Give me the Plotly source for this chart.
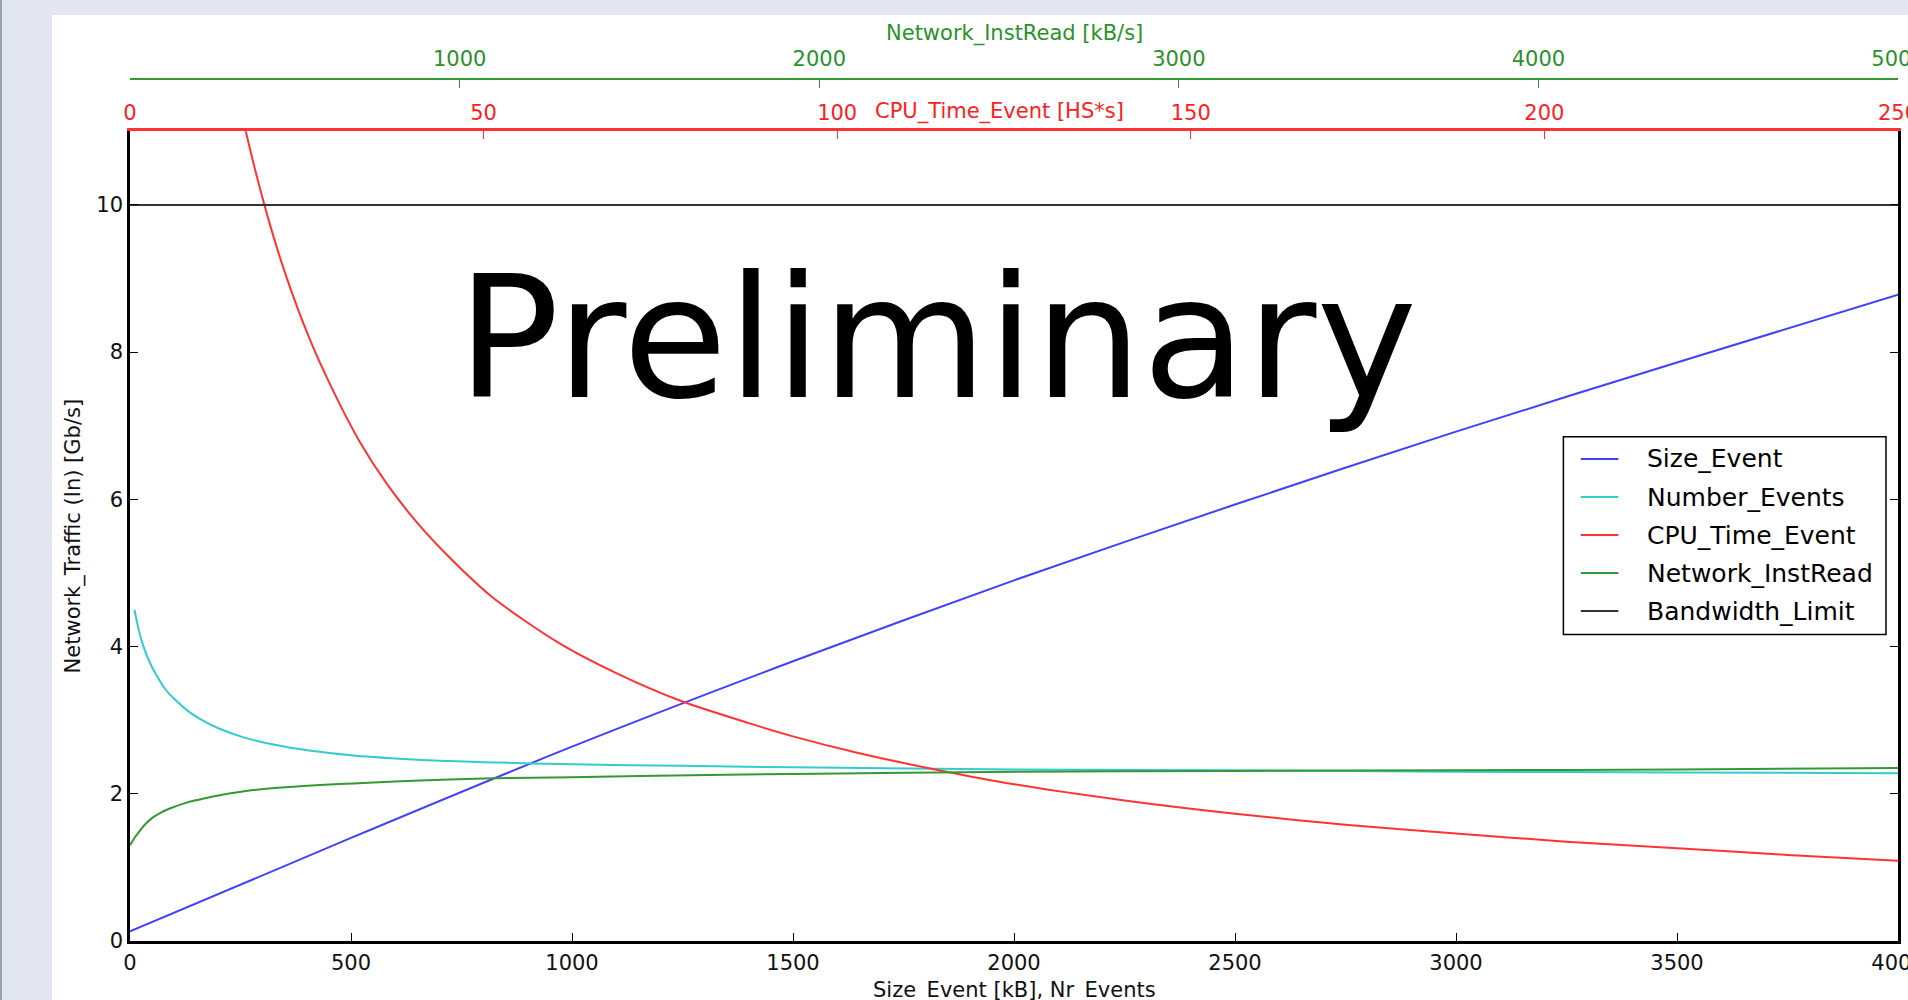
import plotly.graph_objects as go

# ---- data (network traffic model vs. event size) ----
size_x = [0, 500, 1000, 1500, 2000, 2500, 3000, 3500, 4000]
size_y = [0.13, 1.40, 2.64, 3.80, 4.90, 5.93, 6.92, 7.86, 8.78]

nevt_x = [10, 20, 30, 45, 60, 80, 100, 130, 160, 200, 250, 300, 360, 430, 505,
          600, 700, 800, 1000, 1250, 1500, 2000, 2500, 3000, 3500, 4000]
nevt_y = [4.50, 4.22, 4.01, 3.78, 3.61, 3.42, 3.29, 3.13, 3.01, 2.89, 2.78, 2.70,
          2.63, 2.57, 2.52, 2.48, 2.45, 2.43, 2.40, 2.38, 2.36, 2.33, 2.32, 2.30,
          2.29, 2.28]

cpu_x = [200, 230, 262, 305, 350, 405, 460, 520, 580, 650, 723, 820, 970, 1100,
         1247, 1400, 1500, 1650, 1830, 2000, 2250, 2500, 2750, 3000, 3250, 3500,
         3750, 4000]
cpu_y = [12.92, 11.92, 11.0, 9.98, 9.09, 8.2, 7.47, 6.78, 6.22, 5.68, 5.21, 4.67,
         4.05, 3.64, 3.26, 2.96, 2.78, 2.55, 2.32, 2.13, 1.91, 1.73, 1.58, 1.46,
         1.35, 1.26, 1.17, 1.09]

net_x = [0, 10, 20, 35, 52, 70, 90, 128, 170, 203, 279, 354, 430, 505, 656, 822,
         1000, 1154, 1500, 2000, 2500, 3000, 3500, 4000]
net_y = [1.30, 1.40, 1.48, 1.59, 1.68, 1.745, 1.80, 1.88, 1.94, 1.98, 2.05, 2.09,
         2.12, 2.14, 2.18, 2.21, 2.225, 2.24, 2.27, 2.30, 2.31, 2.32, 2.33, 2.35]

limit_x = [0, 4000]
limit_y = [10, 10]

x_ticks = [0, 500, 1000, 1500, 2000, 2500, 3000, 3500, 4000]
y_ticks = [0, 2, 4, 6, 8, 10]
cpu_ticks = [0, 50, 100, 150, 200, 250]
net_ticks = [1000, 2000, 3000, 4000, 5000]

# ---- page geometry ----
W, H = 1908, 1000
L, R, T, B = 130, 10, 79, 59
PW, PH = W - L - R, H - T - B


def px_x(px):
    return (px - L) / PW


def px_y(py):
    return (H - B - py) / PH


FONT = "DejaVu Sans"
BLUE, CYAN, RED, GREEN, GREY = "#4040ff", "#33cccc", "#ff3333", "#339933", "#333333"
RED_TXT, GREEN_TXT = "#ff2020", "#2a922a"

fig = go.Figure()
series = [
    ("Size_Event", size_x, size_y, BLUE),
    ("Number_Events", nevt_x, nevt_y, CYAN),
    ("CPU_Time_Event", cpu_x, cpu_y, RED),
    ("Network_InstRead", net_x, net_y, GREEN),
    ("Bandwidth_Limit", limit_x, limit_y, GREY),
]
for name, xs, ys, col in series:
    fig.add_trace(go.Scatter(
        x=xs, y=ys, name=name, mode="lines",
        line=dict(color=col, width=2, shape="spline", smoothing=0.8),
        showlegend=False,
    ))

ydom_top = px_y(131.3)

fig.update_layout(
    width=W, height=H,
    margin=dict(l=L, r=R, t=T, b=B, pad=0, autoexpand=False),
    paper_bgcolor="#e1e6f0",
    plot_bgcolor="white",
    font=dict(family=FONT, size=21, color="#111111"),
    showlegend=False,
    xaxis=dict(
        range=[0, 4000], tickvals=x_ticks, ticks="inside", ticklen=8,
        tickcolor="black", showline=True, linecolor="black", linewidth=2.5,
        showgrid=False, zeroline=False, ticklabeloverflow="allow",
        ticklabelstandoff=1, automargin=False,
    ),
    yaxis=dict(
        range=[0, 11], tickvals=y_ticks, ticks="inside", ticklen=8,
        tickcolor="black", showline=True, linecolor="black", linewidth=2.5,
        mirror="ticks", showgrid=False, zeroline=False, automargin=False,
        domain=[0, ydom_top],
        title=dict(text="Network_Traffic (In) [Gb/s]", standoff=10,
                   font=dict(size=21, family=FONT)),
    ),
    xaxis2=dict(
        overlaying="x", side="top", anchor="y", range=[0, 250],
        tickvals=cpu_ticks, ticks="inside", ticklen=8, tickcolor=RED,
        showline=True, linecolor=RED, linewidth=2.5, showgrid=False,
        zeroline=False, ticklabeloverflow="allow", automargin=False,
        tickfont=dict(color=RED_TXT, size=21, family=FONT),
    ),
    xaxis3=dict(
        overlaying="x", side="top", anchor="free", position=1,
        range=[83, 5000], tickvals=net_ticks, ticks="inside", ticklen=8,
        tickcolor=GREEN, showline=True, linecolor=GREEN, linewidth=2,
        showgrid=False, zeroline=False, ticklabeloverflow="allow",
        ticklabelstandoff=4, automargin=False,
        tickfont=dict(color=GREEN_TXT, size=21, family=FONT),
    ),
)

# invisible carriers so the two upper axes are drawn
fig.add_trace(go.Scatter(x=[0, 250], y=[None, None], xaxis="x2", yaxis="y",
                         showlegend=False, hoverinfo="skip"))
fig.add_trace(go.Scatter(x=[83, 5000], y=[None, None], xaxis="x3", yaxis="y",
                         showlegend=False, hoverinfo="skip"))

# slide background: white card with a bluish frame
fig.add_shape(type="rect", xref="paper", yref="paper", layer="below",
              x0=px_x(52), x1=px_x(W + 5), y0=px_y(H + 5), y1=px_y(15),
              fillcolor="white", line=dict(width=0))
fig.add_shape(type="rect", xref="paper", yref="paper", layer="below",
              x0=px_x(-2), x1=px_x(2), y0=px_y(H + 5), y1=px_y(-5),
              fillcolor="#98a0b4", line=dict(width=0))

# axis labels placed explicitly
fig.add_annotation(text="Size_Event [kB], Nr_Events", xref="paper", yref="paper",
                   x=px_x(1014), y=px_y(990.5), xanchor="center", yanchor="middle",
                   showarrow=False, font=dict(color="#111111", size=21, family=FONT))
fig.add_annotation(text="Network_InstRead [kB/s]", xref="paper", yref="paper",
                   x=px_x(1014), y=px_y(33), xanchor="center", yanchor="middle",
                   showarrow=False, font=dict(color=GREEN_TXT, size=21, family=FONT))
fig.add_annotation(text="CPU_Time_Event [HS*s]", xref="paper", yref="paper",
                   x=px_x(999), y=px_y(112), xanchor="center", yanchor="middle",
                   showarrow=False, font=dict(color=RED_TXT, size=21, family=FONT))

# watermark
fig.add_annotation(text="Preliminary", xref="paper", yref="paper",
                   x=px_x(937), y=px_y(338), xanchor="center", yanchor="middle",
                   showarrow=False, font=dict(color="black", size=170, family=FONT))

# legend box
LEG_L, LEG_R, LEG_T, LEG_B = 1563.4, 1886, 436.8, 634.4
fig.add_shape(type="rect", xref="paper", yref="paper", layer="above",
              x0=px_x(LEG_L), x1=px_x(LEG_R), y0=px_y(LEG_B), y1=px_y(LEG_T),
              fillcolor="white", line=dict(color="black", width=1.5))
row0, row_step = 459, 38
for i, (name, _, _, col) in enumerate(series):
    ry = row0 + i * row_step
    fig.add_shape(type="line", xref="paper", yref="paper", layer="above",
                  x0=px_x(1580.8), x1=px_x(1618.4), y0=px_y(ry), y1=px_y(ry),
                  line=dict(color=col, width=2))
    fig.add_annotation(text=name, xref="paper", yref="paper",
                       x=px_x(1644.5), y=px_y(ry), xanchor="left", yanchor="middle",
                       showarrow=False, font=dict(color="black", size=25, family=FONT))

fig.write_html("out.html")
